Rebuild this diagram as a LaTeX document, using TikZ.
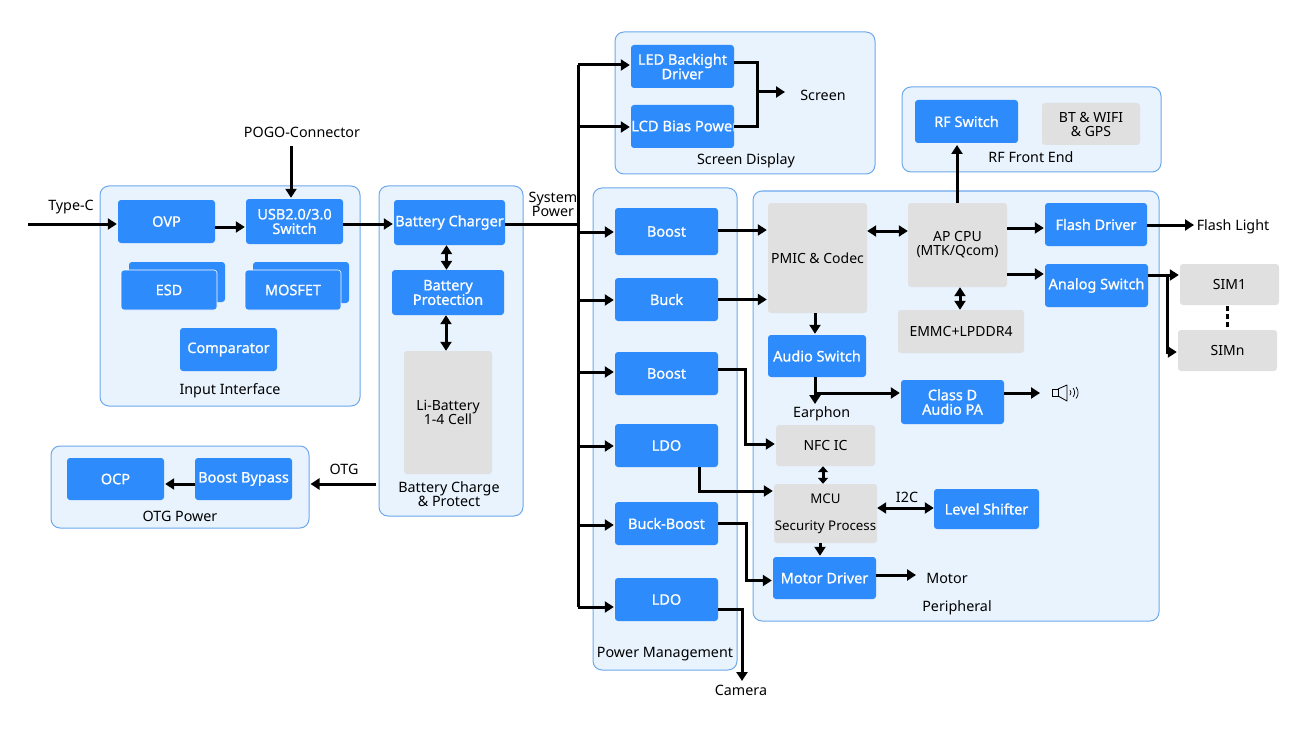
\documentclass[tikz,border=0pt]{standalone}
\usepackage{fontspec}
\setmainfont{Noto Sans}[BoldFont={Noto Sans},BoldFeatures={FakeBold=0.9}]
\usetikzlibrary{arrows.meta}
\definecolor{bluebox}{HTML}{2E8BFB}
\definecolor{panelfill}{HTML}{E8F3FE}
\definecolor{paneledge}{HTML}{6DA9EC}
\definecolor{graybox}{HTML}{E0E0E0}
\tikzset{
  base/.style={rectangle,inner sep=0pt,align=center,font=\fontsize{14}{14}\selectfont},
  bluenode/.style={base,fill=bluebox,text=white,rounded corners=3pt,font=\fontsize{14.5}{14.5}\selectfont\bfseries},
  blueback/.style={bluenode,draw=white,line width=0.6pt},
  graynode/.style={base,fill=graybox,text=black,rounded corners=3pt},
  graysmall/.style={graynode,font=\fontsize{13.3}{14}\selectfont},
  panelnode/.style={base,fill=panelfill,draw=paneledge,line width=1pt,rounded corners=9pt},
  lbl/.style={base,text=black,font=\fontsize{14.3}{14}\selectfont},
  conn/.style={line width=3pt,draw=black},
  arr/.style={conn,-{Triangle[length=9pt,width=11pt]},shorten >=1pt},
  biarr/.style={conn,{Triangle[length=9pt,width=11pt]}-{Triangle[length=9pt,width=11pt]}},
  biarrshort/.style={conn,{Triangle[length=6pt,width=10pt]}-{Triangle[length=6pt,width=10pt]}},
}
\newcommand{\bx}[7][]{%
  \pgfmathsetmacro{\bxcx}{(#4+#6)/2}\pgfmathsetmacro{\bxcy}{-(#5+#7)/2}%
  \pgfmathsetmacro{\bxw}{#6-#4}\pgfmathsetmacro{\bxh}{#7-#5}%
  \node[#2,minimum width=\bxw pt,minimum height=\bxh pt] (#3) at (\bxcx,\bxcy) {#1};}
\newcommand{\tx}[4]{\node[lbl] (#1) at (#2,-#3) {#4};}
\newcommand{\busto}[2]{\path ([yshift=#2]#1.west) coordinate (tmpend);\draw[arr] (tmpend -| busT) -- (tmpend);}
\begin{document}
\begin{tikzpicture}[x=1pt,y=1pt]
\useasboundingbox (0,0) rectangle (1299,-733);
% panels
\bx{panelnode}{pInput}{100}{186}{360}{406}
\bx{panelnode}{pBatt}{379}{186}{523}{516}
\bx{panelnode}{pOtg}{51}{446}{309}{528}
\bx{panelnode}{pScreen}{615}{32}{875}{174}
\bx{panelnode}{pRF}{902}{87}{1161}{172}
\bx{panelnode}{pPower}{593}{188}{737}{670}
\bx{panelnode}{pPeri}{753}{191}{1159}{621}
% input
\bx[OVP]{bluenode}{ovp}{118}{200}{215}{243}
\bx[USB2.0/3.0\\Switch]{bluenode}{usb}{246}{199}{343}{244}
\bx{bluenode}{esdB}{129}{262}{225}{302}
\bx[ESD]{blueback}{esd}{121}{270}{217}{310}
\bx{bluenode}{mosB}{253}{262}{349}{303}
\bx[MOSFET]{blueback}{mos}{245}{270}{341}{310}
\bx[Comparator]{bluenode}{comp}{180}{328}{277}{371}
\tx{tInput}{230}{391}{Input Interface}
\tx{tPogo}{302}{132}{POGO-Connector}
\tx{tType}{71}{207}{Type-C}
% battery
\bx[Battery Charger]{bluenode}{chg}{394}{200}{505}{245}
\bx[Battery\\Protection]{bluenode}{prot}{392}{270}{504}{315}
\bx[Li-Battery\\1-4 Cell]{graynode}{li}{404}{351}{492}{474}
\tx{tBatt}{449}{494}{Battery Charge\\\& Protect}
\tx{tSys}{553}{204}{System\\Power}
% otg
\bx[OCP]{bluenode}{ocp}{67}{458}{164}{500}
\bx[Boost Bypass]{bluenode}{byp}{195}{458}{292}{500}
\tx{tOtgP}{180}{516}{OTG Power}
\tx{tOtg}{344}{469}{OTG}
% screen
\bx[LED Backight\\Driver]{bluenode}{led}{631}{45}{734}{88}
\bx{bluenode}{lcd}{631}{105}{734}{148}
\begin{scope}
  \clip (631,-105) rectangle (734,-148);
  \node[lbl,text=white,font=\fontsize{14.7}{14.5}\selectfont\bfseries,anchor=west] (tLcd) at (631,-126) {LCD Bias Power};
\end{scope}
\tx{tDisp}{746}{161}{Screen Display}
\tx{tScreen}{823}{95}{Screen}
% rf
\bx[RF Switch]{bluenode}{rf}{915}{100}{1018}{143}
\bx[BT \& WIFI\\\& GPS]{graynode}{bt}{1042}{103}{1140}{145}
\tx{tRF}{1031}{157}{RF Front End}
% power
\bx[Boost]{bluenode}{b1}{615}{208}{718}{255}
\bx[Buck]{bluenode}{b2}{615}{278}{718}{321}
\bx[Boost]{bluenode}{b3}{615}{352}{718}{395}
\bx[LDO]{bluenode}{b4}{615}{424}{718}{467}
\bx[Buck-Boost]{bluenode}{b5}{615}{502}{718}{545}
\bx[LDO]{bluenode}{b6}{615}{578}{718}{621}
\tx{tPow}{665}{654}{Power Management}
\tx{tCam}{741}{690}{Camera}
% peripheral
\bx[PMIC \& Codec]{graynode}{pmic}{768}{203}{867}{313}
\bx[AP CPU\\(MTK/Qcom)]{graynode}{cpu}{908}{203}{1007}{287}
\bx[Flash Driver]{bluenode}{flash}{1045}{203}{1147}{246}
\bx[Analog Switch]{bluenode}{ana}{1045}{264}{1148}{307}
\bx[EMMC+LPDDR4]{graynode}{emmc}{898}{310}{1024}{353}
\bx[Audio Switch]{bluenode}{aud}{768}{335}{866}{377}
\bx[Class D\\Audio PA]{bluenode}{cld}{901}{380}{1004}{424}
\bx[NFC IC]{graynode}{nfc}{776}{425}{875}{466}
\bx[{MCU\\[13pt]Security Process}]{graysmall}{mcu}{774}{484}{877}{543}
\bx[Level Shifter]{bluenode}{lvl}{934}{489}{1039}{529}
\bx[Motor Driver]{bluenode}{mot}{773}{557}{876}{599}
\bx[SIM1]{graynode}{sim1}{1180}{264}{1279}{305}
\bx[SIMn]{graynode}{simn}{1178}{330}{1277}{371}
\tx{tFlash}{1233}{227}{Flash Light}
\tx{tI2C}{907}{497}{I2C}
\tx{tMotor}{947}{578}{Motor}
\tx{tPeri}{957}{608}{Peripheral}
\begin{scope}
  \clip (785,-404) rectangle (849,-424);
  \node[lbl,anchor=west] (tEar) at (793,-414) {Earphone};
\end{scope}
% connectors
\coordinate (cType) at (28,-224);
\coordinate (cPogo) at (291,-146);
\coordinate (busT) at (578,-65);
\coordinate (busB) at (578,-607);
\draw[arr] (cType) -- (cType -| ovp.west);
\draw[arr] (cPogo) -- (cPogo |- usb.north);
\draw[arr] ([yshift=-5.5]ovp.east) -- ([yshift=-5.5]ovp.east -| usb.west);
\draw[arr] ([yshift=-2.5]usb.east) -- ([yshift=-2.5]usb.east -| chg.west);
\draw[biarr] ([xshift=-3]chg.south) -- ([xshift=-3]chg.south |- prot.north);
\draw[biarr] ([xshift=-2]prot.south) -- ([xshift=-2]prot.south |- li.north);
\draw[conn] ([yshift=-1.5]chg.east) -- ([yshift=-1.5]chg.east -| busT);
\draw[conn] (busT) -- (busB);
\coordinate (cOtg) at (376,-484);
\draw[arr] (cOtg) -- (cOtg -| pOtg.east);
\draw[arr] ([yshift=-5]byp.west) -- ([yshift=-5]byp.west -| ocp.east);
\busto{led}{1.5}
\busto{lcd}{-0.5}
\busto{b1}{-0.5}
\busto{b2}{-0.5}
\busto{b3}{1.5}
\busto{b4}{-0.5}
\busto{b5}{-1.5}
\busto{b6}{-7.5}
\coordinate (cJoin) at (757,-92);
\coordinate (cScreen) at (786,-92);
\draw[conn] ([yshift=3.5]led.east) -| (cJoin) |- ([yshift=-0.5]lcd.east);
\draw[arr] (cJoin) -- (cScreen);
\draw[arr] ([yshift=1.5]b1.east) -- ([yshift=1.5]b1.east -| pmic.west);
\draw[arr] (b2.east) -- (b2.east -| pmic.west);
\coordinate (cCpuUp) at (957,-144);
\draw[biarr] ([yshift=27]pmic.east) -- ([yshift=27]pmic.east -| cpu.west);
\draw[arr] (cpu.north -| cCpuUp) -- (cCpuUp);
\draw[arr] ([yshift=17]cpu.east) -- ([yshift=17]cpu.east -| flash.west);
\draw[arr] ([yshift=-29]cpu.east) -- ([yshift=-29]cpu.east -| ana.west);
\draw[biarr] ([xshift=2.5]cpu.south) -- ([xshift=2.5]cpu.south |- emmc.north);
\coordinate (cFlash) at (1195,-225);
\draw[arr] (cFlash -| flash.east) -- (cFlash);
\coordinate (cSplit) at (1167,-275);
\draw[arr] (cSplit -| ana.east) -- (cSplit -| sim1.west);
\draw[arr] (cSplit) |- ([yshift=-1.5]simn.west);
\coordinate (d1) at (1227,-306);
\coordinate (d2) at (1227,-328);
\draw[conn,dash pattern=on 5pt off 3pt] (d1) -- (d2);
\coordinate (cAud) at (815,-405);
\coordinate (cAud2) at (815,-393);
\draw[arr] (pmic.south -| cAud) -- (aud.north -| cAud);
\draw[arr] (aud.south -| cAud) -- (cAud);
\draw[arr] (cAud2) -- (cAud2 -| cld.west);
\coordinate (cSpk) at (1041,-393);
\draw[arr] (cSpk -| cld.east) -- (cSpk);
\draw[arr] ([yshift=-1.5]b3.north east) ++(0,-16.5) -- ++(27,0) |- ([yshift=1.5]nfc.west);
\coordinate (cLdo) at (699,-491);
\draw[arr] (cLdo |- b4.south) -- (cLdo) -- (cLdo -| mcu.west);
\draw[biarrshort] ([xshift=-2.5]nfc.south) -- ([xshift=-2.5]nfc.south |- mcu.north);
\draw[biarr] ([yshift=5.5]mcu.east) -- ([yshift=5.5]mcu.east -| lvl.west);
\draw[arr] ([xshift=-5.5]mcu.south) -- ([xshift=-5.5]mcu.south |- mot.north);
\draw[arr] (b5.east) -- ++(28,0) |- ([yshift=-2.5]mot.west);
\coordinate (cMot) at (917,-575);
\draw[arr] (cMot -| mot.east) -- (cMot);
\coordinate (cCam) at (742,-682);
\draw[arr] ([yshift=-10]b6.east) -| (cCam);
% speaker
\draw[line width=0.8pt,black] (1052,-389) rectangle (1058,-396);
\draw[line width=0.8pt,black,line join=round] (1058,-389) -- (1067,-385) -- (1067,-401) -- (1058,-396);
\draw[line width=0.7pt] (1070,-390) arc[start angle=40,end angle=-40,radius=4];
\draw[line width=0.7pt] (1073,-388) arc[start angle=40,end angle=-40,radius=7];
\draw[line width=0.7pt] (1076,-387) arc[start angle=40,end angle=-40,radius=9];
\end{tikzpicture}
\end{document}
